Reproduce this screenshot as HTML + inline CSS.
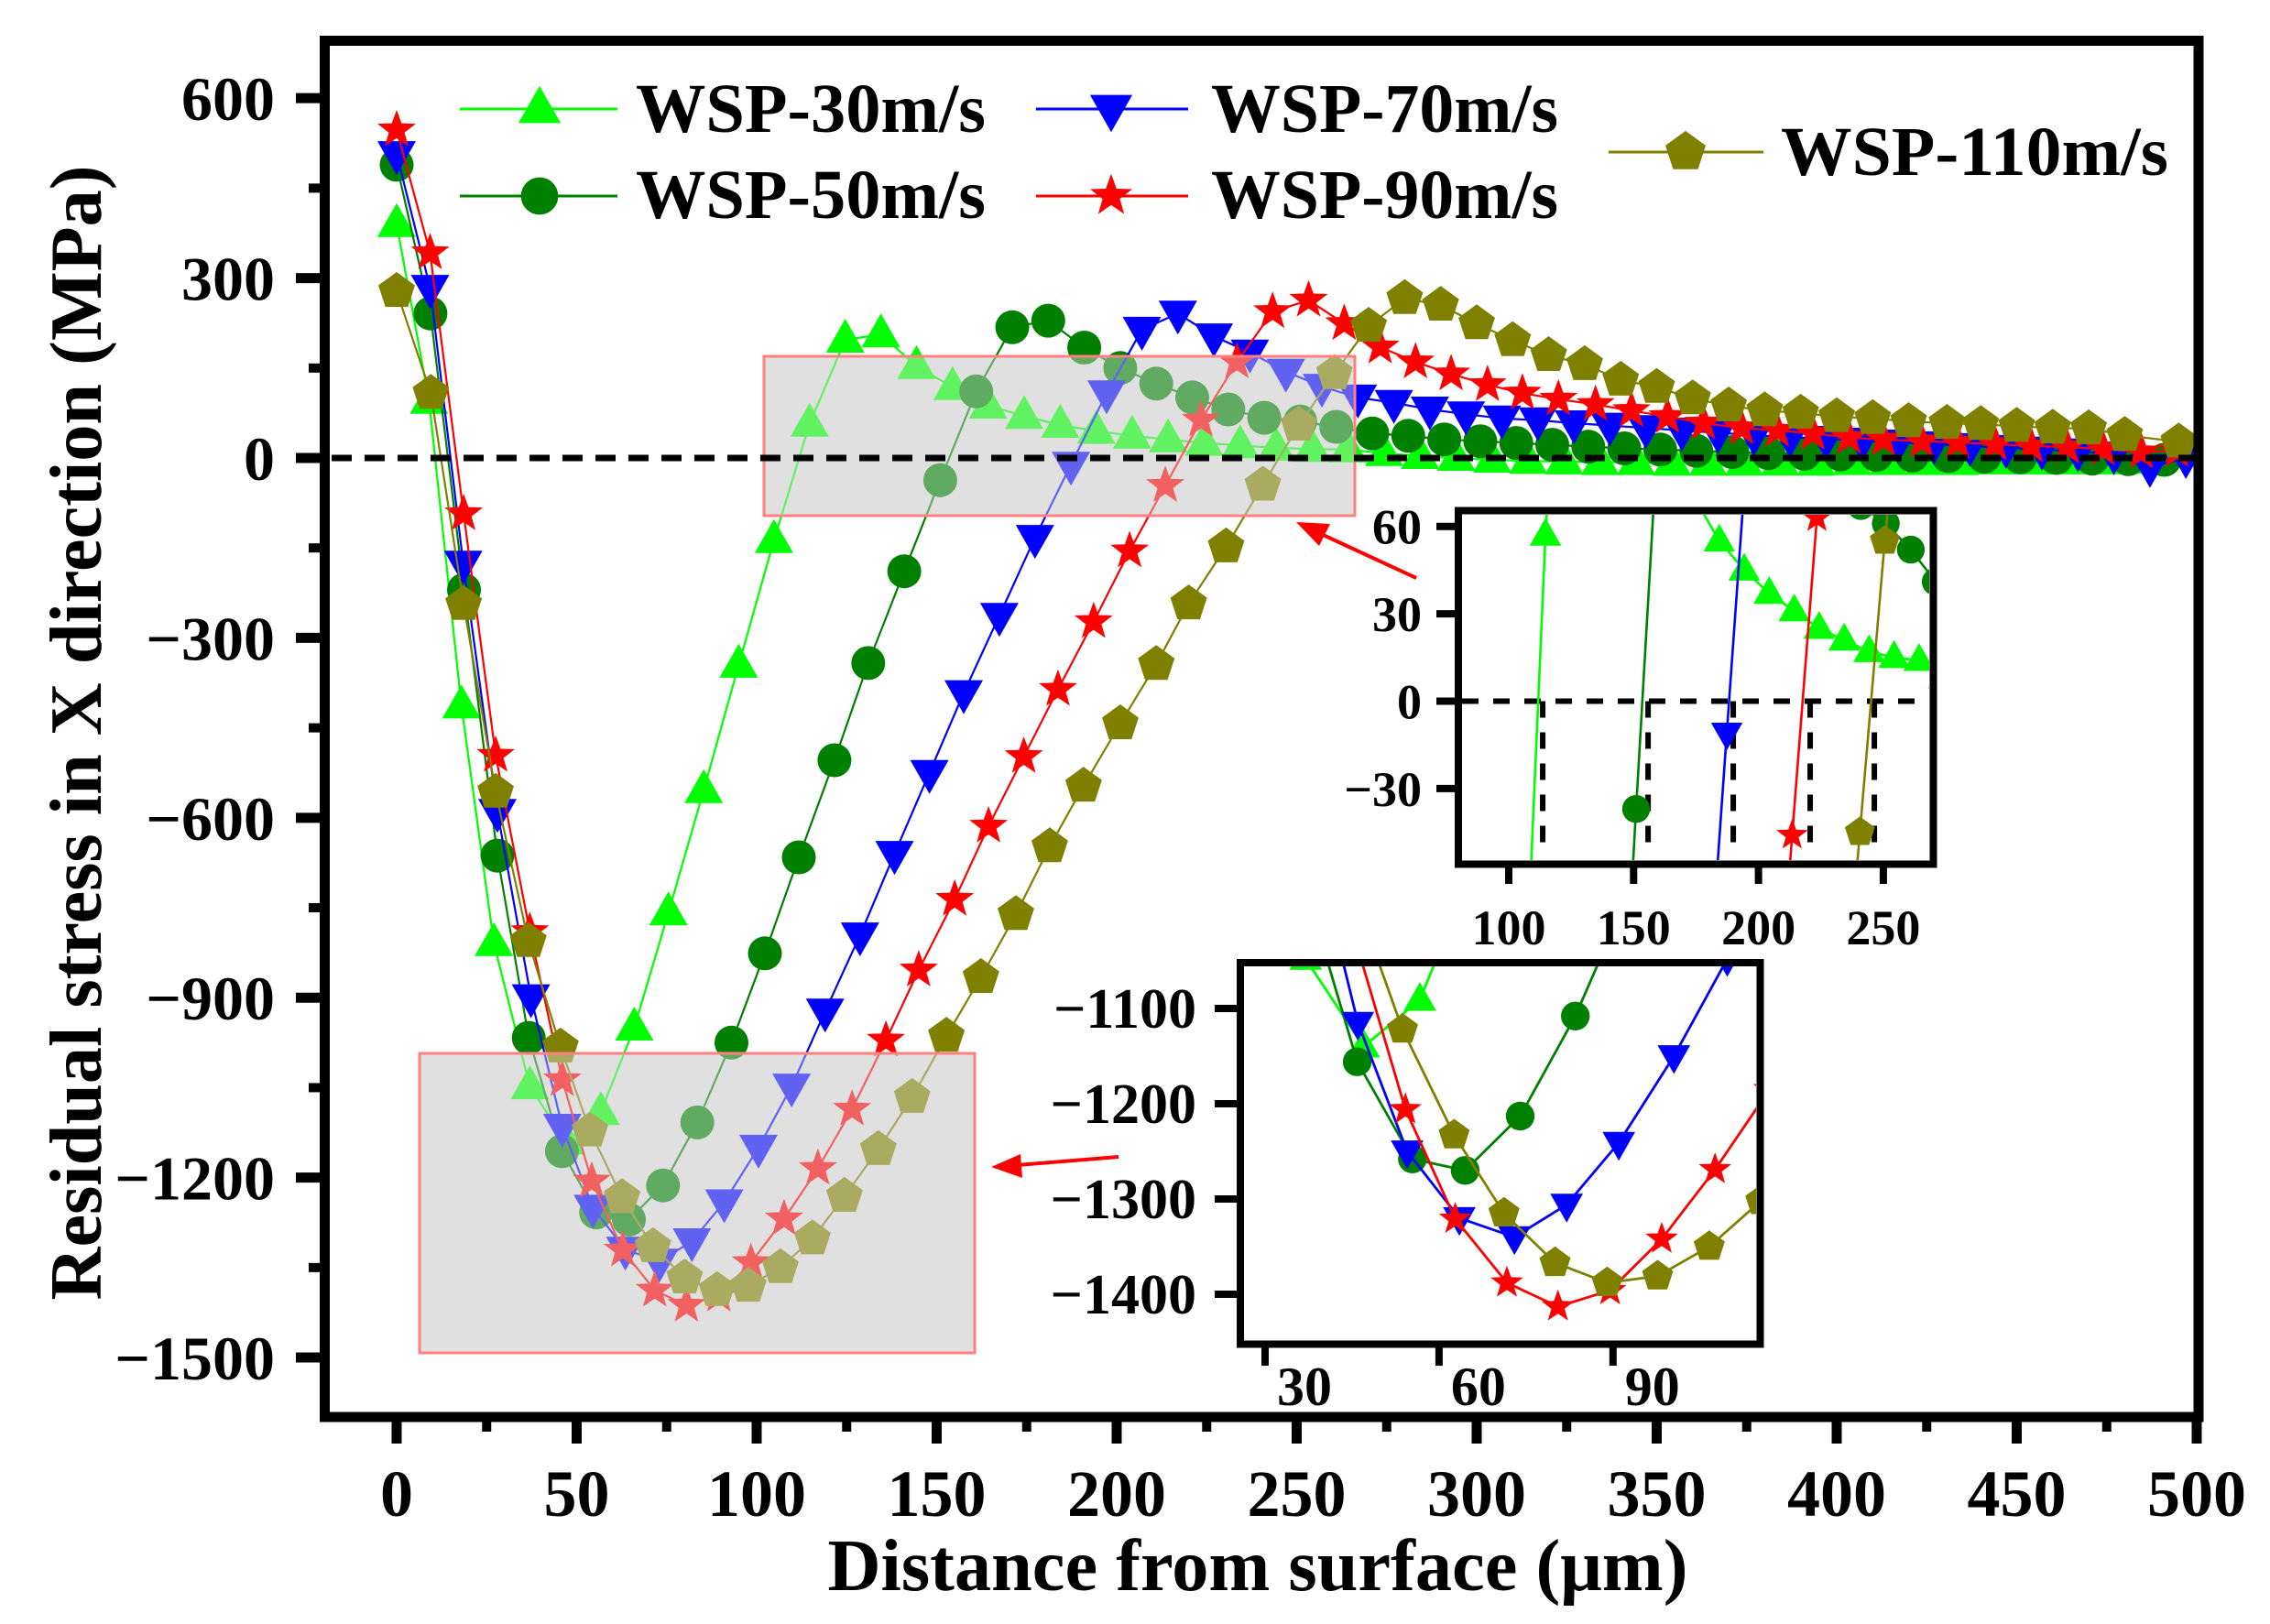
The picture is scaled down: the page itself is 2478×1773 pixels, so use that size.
<!DOCTYPE html>
<html><head><meta charset="utf-8"><style>
html,body{margin:0;padding:0;background:#fff;width:2478px;height:1773px;overflow:hidden;}
svg{display:block;}
text{font-family:"Liberation Serif","Times New Roman",serif;fill:#000;}
</style></head>
<body>
<svg id="chart" xmlns="http://www.w3.org/2000/svg" width="2478" height="1773" viewBox="0 0 2478 1773">
<defs>
<clipPath id="clipMain"><rect x="360" y="50" width="2035" height="1492"/></clipPath>
<clipPath id="clipIn1"><rect x="1596" y="562" width="510" height="377"/></clipPath>
<clipPath id="clipIn2"><rect x="1358" y="1055" width="559" height="408"/></clipPath>
</defs>
<rect x="0" y="0" width="2478" height="1773" fill="#fff"/>
<rect x="834" y="389" width="645" height="174" fill="#e0e0e0"/>
<rect x="458" y="1150" width="606" height="327" fill="#e0e0e0"/>
<g id="mainSeries" clip-path="url(#clipMain)"></g>
<rect x="834" y="389" width="645" height="174" fill="rgba(224,224,224,0.43)" stroke="#ff8080" stroke-width="3"/>
<rect x="458" y="1150" width="606" height="327" fill="rgba(224,224,224,0.43)" stroke="#ff8080" stroke-width="3"/>
<line x1="362" y1="500" x2="2395" y2="500" stroke="#000" stroke-width="7" stroke-dasharray="22 14"/>
<g id="axes"></g>
<rect x="354.5" y="44.5" width="2045.5" height="1502.5" fill="none" stroke="#000" stroke-width="11"/>
<g id="legend"></g>
<text x="110" y="800" transform="rotate(-90 110 800)" text-anchor="middle" font-size="80" font-weight="bold" textLength="1239" lengthAdjust="spacingAndGlyphs">Residual stress in X direction (MPa)</text>
<text x="1373" y="1736" text-anchor="middle" font-size="80" font-weight="bold" textLength="939" lengthAdjust="spacingAndGlyphs">Distance from surface (μm)</text>
<g>
<line x1="1546" y1="631" x2="1440" y2="582" stroke="#ff0000" stroke-width="4"/>
<polygon points="1415,570 1452,572 1440,596" fill="#ff0000"/>
</g>
<g>
<line x1="1221" y1="1263" x2="1110" y2="1272" stroke="#ff0000" stroke-width="4"/>
<polygon points="1082,1274 1114,1260 1116,1286" fill="#ff0000"/>
</g>
<g id="inset1"></g>
<g id="inset2"></g>
</svg>
<script>
const xs30=[0,9,18,27,37,47,56.7,66,75.5,85.3,95,104.8,114.7,124.6,134.5,144.4,154.4,164.3,174.3,184.3,194.3,204.3,214.3,224.3,234.3,244.3,254.3,264.3,274.3,284.3,294.3,304.3,314.3,324.3,334.3,344.3,354.3,364.3,374.3,384.3,394.3,404.3,414.3,424.3,434.3,444.3,454.3,464.3,474.3,484.3,494.3];
const ys30=[390,95,-413,-809,-1048,-1140,-1091,-950,-758,-554,-345,-137,57,197,206,153,118,87,70,55,45,37,31,25,21,17,15,14,8,3,0,-3,-5,-6,-7,-7,-8,-8,-8,-8,-8,-7,-7,-7,-7,-6,-6,-6,-6,-5,10];
const xs50=[0,9.4,18.7,28,36.7,45.9,55.4,64.5,74,83.5,93,102.3,111.7,121.6,131,141,151,161,171,181,191,201,211,221,231,241,251,261,271,281,291,301,311,321,331,341,351,361,371,381,391,401,411,421,431,441,451,461,471,481,491];
const ys50=[489,241,-220,-663,-967,-1156,-1258,-1270,-1213,-1108,-975,-826,-666,-504,-342,-189,-37,111,218,229,184,150,124,101,81,67,61,52,41,37,31,28,25,22,19,16,14,12,10,8,7,6,5,4,3,2,1,0,-1,-2,-3];
const xs70=[0,9.3,18.5,28,37.3,46,54.5,63.5,73,82,91,100.5,109.7,119,128.7,138.3,148,157.5,167.4,177.3,187.3,197.2,207,217,227,237,247,257,267,277,287,297,307,317,327,337,347,357,367,377,387,397,407,417,427,437,447,457,467,477,487,497];
const ys70=[507,284,-176,-590,-899,-1115,-1250,-1320,-1340,-1306,-1241,-1150,-1048,-923,-796,-660,-525,-392,-263,-133,-11,108,214,241,203,176,144,119,101,92,81,73,66,63,58,54,50,46,42,38,35,32,29,26,23,20,17,14,11,6,-15,0];
const xs90=[0,9.3,18.6,27.5,37,46,54.2,62.8,71.7,80.5,89.5,98.4,107.6,117,126.5,135.9,145,155,164.4,174.2,183.7,193.6,203.6,213.5,223.4,233.4,243.3,253.3,263.2,273.2,283,292.9,303,312.7,322.7,333,343,353,363,373.6,383.5,393.4,403.4,413,423.6,433.6,444,454,464,474,484.6,494.5];
const ys90=[547,342,-93,-496,-790,-1037,-1206,-1321,-1388,-1413,-1396,-1342,-1269,-1185,-1086,-971,-854,-736,-614,-498,-386,-273,-155,-46,63,160,244,263,224,185,160,140,122,108,98,89,79,69,58,50,46,41,34,31,28,26,23,20,18,15,10,12];
const xs110=[0,9.5,18.6,27.5,36.6,45.5,53.7,62.6,71.2,80,89,97.7,106.6,115.5,124.4,133.8,143.2,152.7,162.3,172,181.4,190.8,201,211,220,230.4,240.6,250.6,260.5,270,280,290,300,310,320,330,340,350,360,370,380,390,400,410,420,430.6,440,450,460,470,480,495];
const ys110=[278,108,-244,-557,-806,-982,-1122,-1233,-1315,-1367,-1388,-1381,-1350,-1302,-1231,-1153,-1066,-964,-866,-761,-648,-547,-443,-344,-243,-148,-45,55,141,220,266,255,224,196,171,156,130,118,99,87,79,75,69,66,61,58,56,53,50,49,38,27];
const seriesNames=["WSP-30m/s","WSP-50m/s","WSP-70m/s","WSP-90m/s","WSP-110m/s"];
const mainXTicks=[0,50,100,150,200,250,300,350,400,450,500];
const mainYTicks=[600,300,0,-300,-600,-900,-1200,-1500];
const in1XTicks=[100,150,200,250];
const in1YTicks=[60,30,0,-30];
const in1Cross=[113.6,155.8,189.9,220.7,246.4];
const in2XTicks=[30,60,90];
const in2YTicks=[-1100,-1200,-1300,-1400];

const NS="http://www.w3.org/2000/svg";
const SER=[
 {x:xs30,y:ys30,c:"#00ff00",m:"tri",key:"wsp-30"},
 {x:xs50,y:ys50,c:"#008000",m:"circle",key:"wsp-50"},
 {x:xs70,y:ys70,c:"#0000ff",m:"dtri",key:"wsp-70"},
 {x:xs90,y:ys90,c:"#ff0000",m:"star",key:"wsp-90"},
 {x:xs110,y:ys110,c:"#808000",m:"pent",key:"wsp-110"}
];
function mX(d){return 433+3.93*d;}
function mY(v){return 500-0.6547*v;}
function i1X(d){return 1647+2.726*(d-100);}
function i1Y(v){return 765.5-3.18*v;}
function i2X(d){return 1381+6.33*(d-30);}
function i2Y(v){return 1101-1.04*(v+1100);}
function mk(tag,attrs,parent){const e=document.createElementNS(NS,tag);for(const k in attrs)e.setAttribute(k,attrs[k]);parent.appendChild(e);return e;}
function fmt(v){return v<0?"\u2212"+Math.abs(v):String(v);}
function markerPts(type,cx,cy,k){
 let p=[];
 if(type==="tri"){p=[[0,-23],[21,14],[-21,14]];}
 else if(type==="dtri"){p=[[-21,-14],[21,-14],[0,23]];}
 else if(type==="star"){for(let i=0;i<10;i++){const r=i%2?9:22;const a=-Math.PI/2+i*Math.PI/5;p.push([r*Math.cos(a),r*Math.sin(a)]);}}
 else if(type==="pent"){for(let i=0;i<5;i++){const a=-Math.PI/2+i*2*Math.PI/5;p.push([21*Math.cos(a),21*Math.sin(a)]);}}
 return p.map(q=>(cx+q[0]*k).toFixed(1)+","+(cy+q[1]*k).toFixed(1)).join(" ");
}
function drawMarker(parent,type,cx,cy,k,color){
 let el;
 if(type==="circle"){el=mk("circle",{cx:cx.toFixed(1),cy:cy.toFixed(1),r:(18.5*k).toFixed(1),fill:color},parent);}
 else{el=mk("polygon",{points:markerPts(type,cx,cy,k),fill:color},parent);}
 return el;
}
function drawSeries(parent,s,fx,fy,k,lw,prefix){
 const g=mk("g",{},parent);
 
 
 const pts=s.x.map((d,i)=>fx(d).toFixed(1)+","+fy(s.y[i]).toFixed(1)).join(" ");
 const pl=mk("polyline",{points:pts,fill:"none",stroke:s.c,"stroke-width":lw},g);
 
 
 s.x.forEach((d,i)=>{
  const m=drawMarker(g,s.m,fx(d),fy(s.y[i]),k,s.c);
  
  
 });
}
const mainG=document.getElementById("mainSeries");
SER.forEach(s=>drawSeries(mainG,s,mX,mY,1,2.2,"main"));
const ax=document.getElementById("axes");
mainYTicks.forEach(v=>{
 const t=mk("line",{x1:323,x2:352,y1:mY(v),y2:mY(v),stroke:"#000","stroke-width":11},ax);
 
 
 const l=mk("text",{x:300,y:(mY(v)+24).toFixed(1),"text-anchor":"end","font-size":68,"font-weight":"bold"},ax);
 l.textContent=fmt(v);
 
 
});
for(let v=450;v>=-1350;v-=300){
 const t=mk("line",{x1:337,x2:352,y1:mY(v),y2:mY(v),stroke:"#000","stroke-width":10},ax);
 
 
}
mainXTicks.forEach(d=>{
 const t=mk("line",{x1:mX(d),x2:mX(d),y1:1545,y2:1576,stroke:"#000","stroke-width":11},ax);
 
 
 const l=mk("text",{x:mX(d).toFixed(1),y:1655,"text-anchor":"middle","font-size":72,"font-weight":"bold"},ax);
 l.textContent=String(d);
 
 
});
for(let d=25;d<500;d+=50){
 const t=mk("line",{x1:mX(d),x2:mX(d),y1:1545,y2:1563,stroke:"#000","stroke-width":10},ax);
 
 
}
const lg=document.getElementById("legend");
const legPos=[[502,674,589,119,694,144,382],[502,674,589,214,694,238,382],[1131,1297,1213,119,1322,144,379],[1131,1297,1213,214,1322,238,379],[1756,1925,1840,166,1944,191,423]];
SER.forEach((s,i)=>{
 const p=legPos[i];
 const g=mk("g",{},lg);
 
 
 mk("line",{x1:p[0],x2:p[1],y1:p[3],y2:p[3],stroke:s.c,"stroke-width":3},g);
 drawMarker(g,s.m,p[2],p[3],1.1,s.c);
 const t=mk("text",{x:p[4],y:p[5],"font-size":76,"font-weight":"bold",textLength:p[6],lengthAdjust:"spacingAndGlyphs"},g);
 t.textContent=seriesNames[i];
 
 
});
const in1=document.getElementById("inset1");
mk("rect",{x:1592,y:557.5,width:518.5,height:386,fill:"#fff"},in1);
const c1=mk("g",{"clip-path":"url(#clipIn1)"},in1);
mk("line",{x1:1596,x2:2106,y1:i1Y(0),y2:i1Y(0),stroke:"#000","stroke-width":6,"stroke-dasharray":"18 16"},c1);
in1Cross.forEach(d=>{
 const l=mk("line",{x1:i1X(d),x2:i1X(d),y1:i1Y(0),y2:i1Y(-52),stroke:"#000","stroke-width":6,"stroke-dasharray":"18 16"},c1);
 
 
});
SER.forEach(s=>drawSeries(c1,s,i1X,i1Y,0.82,2.6,"inset1"));
mk("rect",{x:1592,y:557.5,width:518.5,height:386,fill:"none",stroke:"#000","stroke-width":8},in1);
in1YTicks.forEach(v=>{
 mk("line",{x1:1568,x2:1592,y1:i1Y(v),y2:i1Y(v),stroke:"#000","stroke-width":8},in1);
 const l=mk("text",{x:1552,y:(i1Y(v)+19).toFixed(1),"text-anchor":"end","font-size":54,"font-weight":"bold"},in1);
 l.textContent=fmt(v);
 
 
});
in1XTicks.forEach(d=>{
 mk("line",{x1:i1X(d),x2:i1X(d),y1:943,y2:965,stroke:"#000","stroke-width":8},in1);
 const l=mk("text",{x:i1X(d).toFixed(1),y:1031,"text-anchor":"middle","font-size":54,"font-weight":"bold"},in1);
 l.textContent=String(d);
 
 
});
const in2=document.getElementById("inset2");
mk("rect",{x:1354,y:1051,width:567.5,height:416.5,fill:"#fff"},in2);
const c2=mk("g",{"clip-path":"url(#clipIn2)"},in2);
SER.forEach(s=>drawSeries(c2,s,i2X,i2Y,0.85,2.8,"inset2"));
mk("rect",{x:1354,y:1051,width:567.5,height:416.5,fill:"none",stroke:"#000","stroke-width":8},in2);
in2YTicks.forEach(v=>{
 mk("line",{x1:1326,x2:1354,y1:i2Y(v),y2:i2Y(v),stroke:"#000","stroke-width":8},in2);
 const l=mk("text",{x:1306,y:(i2Y(v)+21).toFixed(1),"text-anchor":"end","font-size":62,"font-weight":"bold"},in2);
 l.textContent=fmt(v);
 
 
});
in2XTicks.forEach(d=>{
 mk("line",{x1:i2X(d),x2:i2X(d),y1:1467,y2:1491,stroke:"#000","stroke-width":8},in2);
 const l=mk("text",{x:(i2X(d)+43).toFixed(1),y:1534,"text-anchor":"middle","font-size":60,"font-weight":"bold"},in2);
 l.textContent=String(d);
 
 
});
</script>
</body></html>
